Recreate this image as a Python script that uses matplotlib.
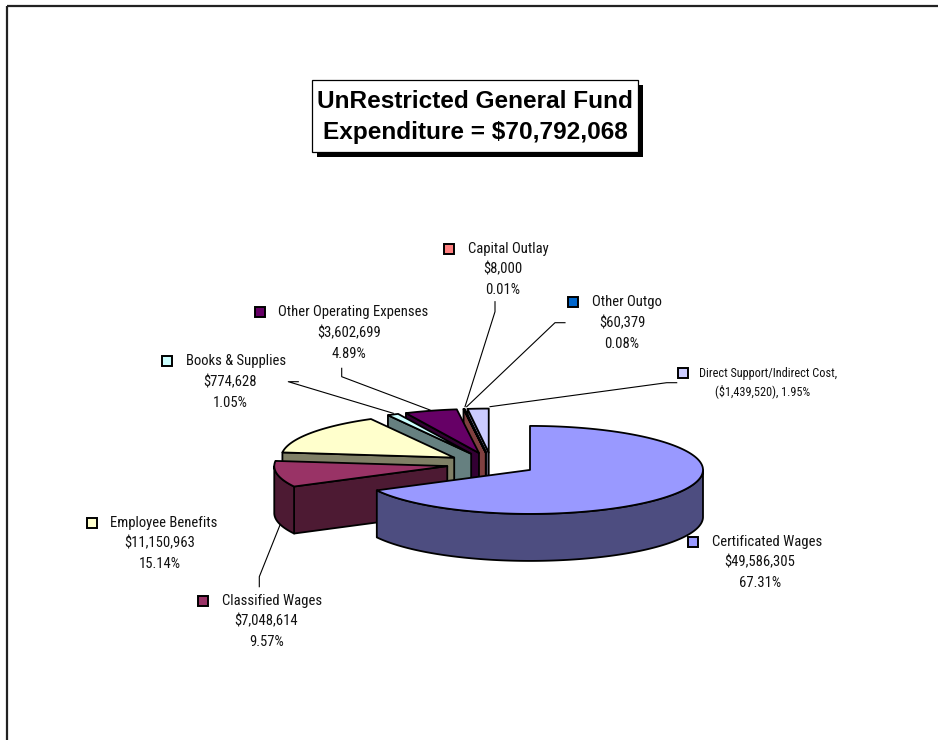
import numpy as np
import matplotlib
matplotlib.use("Agg")
import matplotlib.pyplot as plt
from matplotlib.patches import Polygon, Rectangle
from matplotlib import font_manager

# ---- data -------------------------------------------------------------
categories = ["Certificated Wages", "Classified Wages", "Employee Benefits",
              "Books & Supplies", "Other Operating Expenses", "Capital Outlay",
              "Other Outgo", "Direct Support/Indirect Cost,"]
amounts = [49586305, 7048614, 11150963, 774628, 3602699, 8000, 60379, -1439520]
amount_labels = ["$49,586,305", "$7,048,614", "$11,150,963", "$774,628",
                 "$3,602,699", "$8,000", "$60,379", "($1,439,520)"]
pct_labels = ["67.31%", "9.57%", "15.14%", "1.05%", "4.89%", "0.01%", "0.08%", "1.95%"]
colors = ["#9999FF", "#993366", "#FFFFCC", "#CCFFFF", "#660066", "#FF8080",
          "#0066CC", "#CCCCFF"]
title_lines = ["UnRestricted General Fund", "Expenditure = $70,792,068"]

# ---- fonts ------------------------------------------------------------
available = {f.name for f in font_manager.fontManager.ttflist}
narrow = None
for cand in ["Liberation Sans Narrow", "Arial Narrow", "Roboto Condensed",
             "Open Sans Condensed"]:
    if cand in available:
        narrow = cand
        break
if narrow:
    label_family = [narrow, "DejaVu Sans"]
    lab_fs, small_fs = 10.5, 8.8
else:
    label_family = ["Liberation Sans", "DejaVu Sans"]
    lab_fs, small_fs = 9.3, 7.9

# ---- figure in pixel coordinates --------------------------------------
W, H = 938, 740
fig = plt.figure(figsize=(W / 100, H / 100), dpi=100)
ax = fig.add_axes([0, 0, 1, 1])
ax.set_xlim(0, W)
ax.set_ylim(H, 0)
ax.axis("off")

# chart-area frame
ax.add_patch(Rectangle((7, 6), 1000, 1000, fill=False, edgecolor="#222222",
                       lw=1.6, zorder=1))

# ---- 3-D exploded pie -------------------------------------------------
cx, cy = 491.5, 464.0       # pie centre (top face)
ra, rb = 173.0, 44.0        # ellipse semi-axes
depth = 47.0                # slab thickness
explode = 0.26              # radial offset as fraction of radius

vals = np.abs(np.array(amounts, dtype=float))
spans = vals / vals.sum() * 360.0
# slices run clockwise from 12 o'clock
ends = 90.0 - np.concatenate([[0], np.cumsum(spans)[:-1]])
starts = ends - spans


def darker(c, f=0.5):
    r, g, b = matplotlib.colors.to_rgb(c)
    return (r * f, g * f, b * f)


def pt(px, py, t, dz=0.0):
    tr = np.radians(t)
    return (px + ra * np.cos(tr), py - rb * np.sin(tr) + dz)


slices = []
for i in range(len(vals)):
    t1, t2 = starts[i], ends[i]
    mid = 0.5 * (t1 + t2)
    mr = np.radians(mid)
    px = cx + explode * ra * np.cos(mr)
    py = cy - explode * rb * np.sin(mr)
    slices.append((np.sin(mr), i, t1, t2, px, py))

# paint from back to front
slices.sort(key=lambda s: -s[0])
z = 5
LW = 1.3
for _, i, t1, t2, px, py in slices:
    top_c = colors[i]
    side_c = darker(top_c)
    faces = []
    # radial faces that look towards the viewer
    if np.cos(np.radians(t2)) < -1e-9:
        o = pt(px, py, t2)
        faces.append([(px, py), o, (o[0], o[1] + depth), (px, py + depth)])
    if np.cos(np.radians(t1)) > 1e-9:
        o = pt(px, py, t1)
        faces.append([(px, py), o, (o[0], o[1] + depth), (px, py + depth)])
    # outer curved wall (front half only)
    for k in range(-2, 3):
        lo = max(t1, k * 360 - 180)
        hi = min(t2, k * 360)
        if hi > lo:
            ts = np.linspace(lo, hi, max(4, int((hi - lo) * 2)))
            topp = [pt(px, py, t) for t in ts]
            botp = [pt(px, py, t, depth) for t in ts[::-1]]
            faces.append(topp + botp)
    for f in faces:
        ax.add_patch(Polygon(f, closed=True, facecolor=side_c, edgecolor="black",
                             lw=LW, joinstyle="round", zorder=z))
        z += 1
    ts = np.linspace(t1, t2, max(3, int((t2 - t1) * 2)))
    topface = [(px, py)] + [pt(px, py, t) for t in ts]
    ax.add_patch(Polygon(topface, closed=True, facecolor=top_c, edgecolor="black",
                         lw=LW, joinstyle="round", zorder=z))
    z += 1

# ---- leader lines -----------------------------------------------------
leaders = [
    [(259.3, 586.7), (259.3, 576.7), (280, 525)],          # Classified
    [(298.3, 381.7), (288.3, 381.7), (393.3, 413.3)],      # Books
    [(341.7, 368.3), (341.7, 376.7), (430, 410)],          # Other operating
    [(495, 301.7), (495, 311.7), (465, 406.7)],            # Capital
    [(565, 322.7), (555, 322.7), (466.7, 406.7)],          # Other outgo
    [(676.7, 382.7), (666.7, 382.7), (490, 406.7)],        # Direct support
]
for ln in leaders:
    xs, ys = zip(*ln)
    ax.plot(xs, ys, color="black", lw=0.8, zorder=100)

# ---- data labels ------------------------------------------------------
# (key x, first line y, value-line centre x, line gap, font size)
label_pos = {
    0: (693, 542, 760, 20.5, lab_fs),
    1: (203, 601, 266.5, 20.5, lab_fs),
    2: (92, 523, 159.5, 20.5, lab_fs),
    3: (167, 361, 230, 21, lab_fs),
    4: (260, 312, 349, 21, lab_fs),
    5: (449, 248.5, 503, 20.8, lab_fs),
    6: (573, 302, 622, 21, lab_fs),
}
for i, (kx, ly, vx, gap, fs) in label_pos.items():
    ax.add_patch(Rectangle((kx - 5, ly - 5), 10, 10, facecolor=colors[i],
                           edgecolor="black", lw=1.4, zorder=101))
    ax.text(kx + 18.5, ly, categories[i], ha="left", va="center", fontsize=fs,
            family=label_family, color="#111111", zorder=102)
    ax.text(vx, ly + gap, amount_labels[i], ha="center", va="center", fontsize=fs,
            family=label_family, color="#111111", zorder=102)
    ax.text(vx, ly + 2 * gap, pct_labels[i], ha="center", va="center", fontsize=fs,
            family=label_family, color="#111111", zorder=102)

# Direct Support label (two lines, smaller)
ax.add_patch(Rectangle((678, 368), 10, 10, facecolor=colors[7],
                       edgecolor="black", lw=1.4, zorder=101))
ax.text(699, 373.5, categories[7], ha="left", va="center", fontsize=small_fs,
        family=label_family, color="#111111", zorder=102)
ax.text(763, 391.5, f"{amount_labels[7]}, {pct_labels[7]}", ha="center",
        va="center", fontsize=small_fs, family=label_family, color="#111111",
        zorder=102)

# ---- title box --------------------------------------------------------
ax.add_patch(Rectangle((317, 85), 326, 72, facecolor="black", edgecolor="none",
                       zorder=200))
ax.add_patch(Rectangle((312, 80), 326, 72, facecolor="white", edgecolor="black",
                       lw=0.9, zorder=201))
ax.text(475, 102, title_lines[0], ha="center", va="center", fontsize=17.6,
        fontweight="bold", family=["Liberation Sans", "DejaVu Sans"], zorder=202)
ax.text(475, 132, title_lines[1], ha="center", va="center", fontsize=17.6,
        fontweight="bold", family=["Liberation Sans", "DejaVu Sans"], zorder=202)

fig.savefig("out.png", dpi=100)
